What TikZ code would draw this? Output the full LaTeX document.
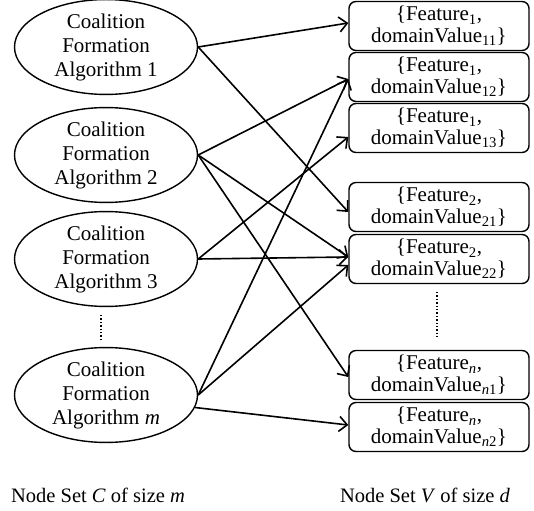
\documentclass[tikz,border=0pt]{standalone}
\usepackage{fontspec}
\setmainfont{Liberation Serif}
\usetikzlibrary{shapes.geometric,arrows.meta}

\tikzset{
  algo/.style={draw, ellipse, line width=1.4pt, minimum width=183pt,
    minimum height=90pt, inner sep=0pt, align=center,
    font=\fontsize{21}{24}\selectfont},
  feat/.style={draw, rounded corners=7pt, line width=1.4pt,
    minimum width=180pt, minimum height=49pt, inner sep=0pt, align=center,
    font=\fontsize{21}{21.5}\selectfont},
  link/.style={line width=1.6pt, -{Straight Barb[length=8pt,width=15pt]}}
}
\newcommand{\featval}[2]{\{Feature\textsubscript{#1},\\domainValue\textsubscript{#2}\}}

\begin{document}
\begin{tikzpicture}[x=1pt,y=-1pt]
  \useasboundingbox (0,0) rectangle (534,510);
  % coalition formation algorithms
  \node[algo] (e1) at (106,47) {Coalition\\Formation\\Algorithm 1};
  \node[algo] (e2) at (106,155) {Coalition\\Formation\\Algorithm 2};
  \node[algo] (e3) at (106,259) {Coalition\\Formation\\Algorithm 3};
  \node[algo] (em) at (106,395) {Coalition\\Formation\\Algorithm \textit{m}};
  % feature / domain value pairs
  \node[feat] (b1) at (439,26) {\featval{1}{11}};
  \node[feat] (b2) at (439,77) {\featval{1}{12}};
  \node[feat] (b3) at (439,128) {\featval{1}{13}};
  \node[feat] (b4) at (439,207) {\featval{2}{21}};
  \node[feat] (b5) at (439,259) {\featval{2}{22}};
  \node[feat] (b6) at (439,375) {\featval{\textit{n}}{\textit{n}1}};
  \node[feat] (b7) at (439,427) {\featval{\textit{n}}{\textit{n}2}};
  % dots
  \draw[line width=1.4pt, dotted] (101,315) -- (101,342);
  \draw[line width=1.4pt, dotted] (437,292) -- (437,337);
  % edges
  \draw[link] (e1.east) -- ([yshift=3pt]b1.west);
  \draw[link] (e1.east) -- ([yshift=-5pt]b4.west);
  \draw[link] (e2.east) -- ([yshift=-2pt]b2.west);
  \draw[link] (e2.east) -- ([yshift=2pt]b5.west);
  \draw[link] (e2.east) -- ([yshift=-2pt]b6.west);
  \draw[link] (e3.east) -- ([yshift=-9pt]b3.west);
  \draw[link] (e3.east) -- ([yshift=2pt]b5.west);
  \draw[link] (em.east) -- ([yshift=-2pt]b2.west);
  \draw[link] (em.east) -- ([yshift=-6pt]b5.west);
  \draw[link] (em.-8) -- ([yshift=2pt]b7.west);
  % captions
  \node[font=\fontsize{20.5}{24}\selectfont] (capc) at (98,495) {Node Set \textit{C} of size \textit{m}};
  \node[font=\fontsize{20.5}{24}\selectfont] (capv) at (425,495) {Node Set \textit{V} of size \textit{d}};
\end{tikzpicture}
\end{document}
